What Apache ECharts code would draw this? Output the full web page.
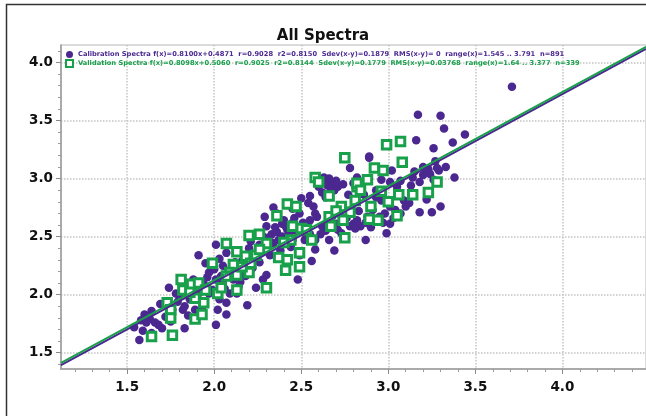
<!DOCTYPE html>
<html>
<head>
<meta charset="utf-8">
<script src="https://cdn.jsdelivr.net/npm/echarts@6/dist/echarts.min.js"></script>
<style>
  html, body { margin: 0; padding: 0; background: #fff; }
  #chart { width: 646px; height: 416px; }
</style>
</head>
<body>
<div id="chart"></div>
<script>
// calibration spectra (purple)
const calX = [3.71,3.17,3.30,3.32,3.44,3.16,3.37,3.26,2.89,2.78,3.27,3.29,3.23,3.38,3.18,3.14,3.02,3.01,2.64,2.68,
  2.61,2.69,2.55,2.77,2.80,2.82,2.93,2.96,3.01,3.10,3.18,3.25,3.30,3.07,3.03,3.01,2.99,2.87,2.84,2.80,
  2.57,2.59,2.55,2.50,2.34,2.29,2.30,2.36,2.39,2.34,2.40,2.45,2.58,2.56,2.69,2.66,2.48,2.30,2.24,2.28,
  2.18,2.13,2.14,2.01,2.07,1.91,1.95,1.97,2.01,2.05,1.99,2.07,2.02,2.07,2.01,2.19,1.91,1.86,1.74,1.80,
  1.83,1.76,1.72,1.70,1.83,1.64,1.60,1.63,1.54,1.57,1.64,1.89,1.93,2.20,2.24,2.16,2.10,2.22,2.38,2.41,
  2.49,2.53,2.62,2.72,2.88,2.91,2.95,3.09,3.13,3.24,3.28,2.96,2.86,2.89,2.67,2.64,2.58,2.49,2.41,2.70,
  2.73,2.78,2.52,2.36,2.11,1.88,1.78,1.97,1.82,1.66,1.61,2.09,2.03,2.14,2.32,2.33,2.37,2.31,2.42,2.44,
  2.08,2.12,2.05,2.03,2.82,2.87,2.92,2.76,2.65,2.71,2.63,3.05,3.07,3.20,1.69,1.79,1.86,2.26,2.45,2.61,2.93,
  2.35,2.39,2.43,2.47,2.33,2.28,2.40,2.46,2.51,2.38,2.26,2.21,2.60,2.66,2.70,2.74,2.62,
  2.83,2.98,3.04,2.90,2.97,3.12,2.81,1.94,2.04,2.12,2.17,1.96,2.06,2.15,2.00,
  1.58,1.68,1.75,1.85,1.59,3.20,3.33,3.15,3.22,3.26,2.55,2.58,2.64,2.68,2.71,2.54,2.50,2.45];
const calY = [3.79,3.55,3.54,3.43,3.38,3.33,3.31,3.26,3.18,3.09,3.15,3.07,3.08,3.01,2.97,3.01,3.07,2.97,2.99,2.96,
  2.97,2.90,2.85,2.86,2.96,3.01,2.90,2.81,2.76,2.76,2.71,2.71,2.76,2.70,2.66,2.61,2.53,2.47,2.59,2.61,
  2.76,2.67,2.64,2.59,2.75,2.67,2.59,2.54,2.50,2.44,2.64,2.47,2.39,2.29,2.38,2.47,2.13,2.17,2.06,2.13,
  2.16,2.01,2.24,2.43,2.36,2.34,2.27,2.19,2.13,2.10,2.04,1.93,1.87,1.83,1.74,1.91,2.01,2.07,2.06,1.99,
  1.90,1.87,1.81,1.71,1.71,1.86,1.83,1.79,1.72,1.61,1.67,1.87,1.87,2.40,2.34,2.29,2.23,2.23,2.31,2.23,
  2.34,2.50,2.59,2.70,2.67,2.73,2.67,2.81,2.94,3.04,3.09,2.99,2.86,3.19,2.90,2.84,2.70,2.70,2.59,2.61,
  2.53,2.59,2.47,2.70,2.13,2.13,2.01,2.01,1.87,1.76,1.76,2.01,1.96,2.07,2.34,2.52,2.47,2.49,2.56,2.41,
  2.20,2.17,2.25,2.31,2.64,2.62,2.64,2.66,2.94,2.93,3.01,2.93,2.98,3.03,1.92,1.94,1.96,2.28,2.62,2.52,2.84,
  2.58,2.61,2.52,2.55,2.45,2.50,2.44,2.66,2.62,2.38,2.43,2.46,2.93,3.00,2.98,2.95,2.88,
  2.72,2.70,2.73,2.58,2.62,2.79,2.57,2.09,2.16,2.28,2.20,2.15,2.05,2.11,2.22,
  1.78,1.74,1.77,1.82,1.69,3.10,3.10,3.06,2.82,2.99,2.52,2.47,2.55,2.68,2.56,2.79,2.83,2.74];

// validation spectra (green)
const valX = [2.99,3.07,2.75,3.08,2.58,2.92,2.97,2.88,2.82,2.66,2.96,3.06,3.14,3.23,3.28,2.90,3.05,2.89,2.94,2.73,
  2.78,2.74,2.66,2.67,2.75,2.42,2.47,2.36,2.45,2.50,2.53,2.44,2.49,2.37,2.42,2.41,2.49,2.20,2.26,2.30,
  2.24,2.13,2.07,2.18,1.99,2.11,2.09,2.13,2.20,2.21,2.30,2.02,2.13,1.81,1.87,1.91,1.95,1.82,1.89,1.94,
  1.73,1.75,1.75,1.89,1.93,1.64,1.76,2.07,2.82,2.84,
  2.40,2.26,2.16,2.04,1.86,2.60,2.81,2.70,3.00,2.56];
const valY = [3.29,3.32,3.18,3.14,3.01,3.09,3.07,2.99,2.93,2.85,2.89,2.86,2.86,2.88,2.97,2.76,2.68,2.65,2.64,2.76,
  2.71,2.64,2.67,2.59,2.49,2.78,2.76,2.68,2.59,2.57,2.56,2.47,2.36,2.32,2.30,2.21,2.24,2.51,2.52,2.44,
  2.34,2.37,2.44,2.33,2.27,2.26,2.19,2.17,2.19,2.27,2.06,2.01,2.04,2.13,2.09,2.10,2.04,2.04,1.97,1.93,
  1.93,1.87,1.80,1.79,1.83,1.64,1.65,2.16,2.96,2.90,
  2.45,2.39,2.24,2.06,2.02,2.97,2.81,2.72,2.80,2.47];

// regression fits [slope, intercept]
const calFit = [0.8100, 0.4871];
const valFit = [0.8098, 0.5060];

const calStats = 'f(x)=0.8100x+0.4871  r=0.9028  r2=0.8150  Sdev(x-y)=0.1879  RMS(x-y)= 0  range(x)=1.545 .. 3.791  n=891';
const valStats = 'f(x)=0.8098x+0.5060  r=0.9025  r2=0.8144  Sdev(x-y)=0.1779  RMS(x-y)=0.03768  range(x)=1.64 .. 3.377  n=339';

// axis
const xRange = [1.12, 4.48];
const yRange = [1.36, 4.15];
const xTicks = [1.5, 2.0, 2.5, 3.0, 3.5, 4.0];
const yTicks = [1.5, 2.0, 2.5, 3.0, 3.5, 4.0];

const purple = '#4b2890';
const green = '#19a04b';

function pairs(xs, ys) {
  return xs.map((v, i) => [v, ys[i]]);
}
function fitLine(fit) {
  return xRange.map(x => [x, fit[0] * x + fit[1]]);
}

const chart = echarts.init(document.getElementById('chart'));

const axisCommon = {
  type: 'value',
  axisLine: { show: true, lineStyle: { color: '#9a9a9a', width: 1.5 } },
  axisTick: { show: true, length: 5, lineStyle: { color: '#8a8a8a' } },
  minorTick: { show: true, splitNumber: 5, length: 3, lineStyle: { color: '#9a9a9a' } },
  splitLine: { show: true, lineStyle: { color: '#c4c4c4', type: 'dotted', width: 1.5 } },
  axisLabel: {
    color: '#111',
    fontFamily: 'DejaVu Sans',
    fontWeight: 'bold',
    fontSize: 13.5,
    formatter: v => v.toFixed(1)
  }
};

chart.setOption({
  animation: false,
  backgroundColor: '#fff',
  title: {
    text: 'All Spectra',
    left: 'center',
    top: 24,
    textStyle: { fontFamily: 'DejaVu Sans', fontWeight: 'bold', fontSize: 15, color: '#111' }
  },
  legend: {
    orient: 'vertical',
    left: 65,
    top: 51,
    itemWidth: 7,
    itemHeight: 7,
    itemGap: 1,
    padding: 0,
    textStyle: { fontFamily: 'DejaVu Sans', fontWeight: 'bold', fontSize: 6.7 },
    data: [
      { name: 'Calibration Spectra', textStyle: { color: purple } },
      { name: 'Validation Spectra', textStyle: { color: green } }
    ],
    formatter: name => name + ' ' + (name === 'Calibration Spectra' ? calStats : valStats)
  },
  grid: { left: 61, right: 0, top: 45, bottom: 47, show: true, borderColor: '#cfcfcf', borderWidth: 1.5 },
  xAxis: Object.assign({}, axisCommon, {
    min: xRange[0],
    max: xRange[1],
    axisTick: Object.assign({}, axisCommon.axisTick, { customValues: xTicks }),
    axisLabel: Object.assign({}, axisCommon.axisLabel, { customValues: xTicks, margin: 11 })
  }),
  yAxis: Object.assign({}, axisCommon, {
    min: yRange[0],
    max: yRange[1],
    axisTick: Object.assign({}, axisCommon.axisTick, { customValues: yTicks }),
    axisLabel: Object.assign({}, axisCommon.axisLabel, { customValues: yTicks, margin: 8 })
  }),
  graphic: [{
    type: 'polyline',
    shape: { points: [[6.5, 416], [6.5, 4.5], [646, 4.5]] },
    style: { stroke: '#333', lineWidth: 1.5, fill: null },
    silent: true
  }],
  series: [
    {
      name: 'Calibration Spectra',
      type: 'scatter',
      symbol: 'circle',
      symbolSize: 8.5,
      itemStyle: { color: purple, opacity: 1 },
      data: pairs(calX, calY)
    },
    {
      name: 'Validation Spectra',
      type: 'scatter',
      symbol: 'rect',
      symbolSize: 8.5,
      itemStyle: { color: '#fff', borderColor: green, borderWidth: 3, opacity: 1 },
      data: pairs(valX, valY)
    },
    {
      name: 'calFit',
      type: 'line',
      symbol: 'none',
      silent: true,
      lineStyle: { color: purple, width: 2 },
      data: fitLine(calFit),
      z: 5
    },
    {
      name: 'valFit',
      type: 'line',
      symbol: 'none',
      silent: true,
      lineStyle: { color: green, width: 2 },
      data: fitLine(valFit),
      z: 6
    }
  ]
});
</script>
</body>
</html>
